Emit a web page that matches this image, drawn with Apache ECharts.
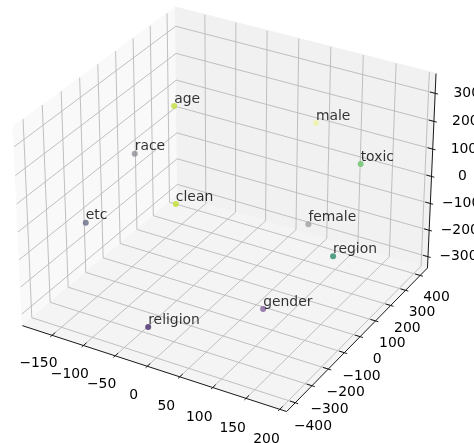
<!DOCTYPE html>
<html>
<head>
<meta charset="utf-8">
<script src="https://cdn.jsdelivr.net/npm/echarts/dist/echarts.min.js"></script>
<style>
html,body{margin:0;padding:0;background:#ffffff;}
#chart{width:474px;height:443px;}
</style>
</head>
<body>
<div id="chart"></div>
<script>
// ---------------- data ----------------
const labels = ['age', 'male', 'race', 'toxic', 'clean', 'etc', 'female', 'region', 'gender', 'religion'];
const xValues = [-89, 38, -169, 134, -38, -170, 64, 147, 98, -13];
const yValues = [40, 414, 95, 305, -142, -185, 268, 83, -148, -396];
const zValues = [269, 104, 18, 71, 44, -91, -179, -139, -238, -242];
const pointColors = ['#c3dc3c', '#eef2a6', '#8e8f96', '#6cc46a', '#c6df2e', '#676d86', '#a0a0a3', '#2a8a6c', '#83619e', '#46296c'];

const xTicks = [-150, -100, -50, 0, 50, 100, 150, 200];
const yTicks = [-400, -300, -200, -100, 0, 100, 200, 300, 400];
const zTicks = [-300, -200, -100, 0, 100, 200, 300];
const xLimits = [-198, 210];
const yLimits = [-451, 451];
const zLimits = [-343, 370];

// ---------------- view / layout ----------------
const VIEW = { elev: 30, azim: -60, dist: 10, boxAspect: [4, 4, 3] };
const LAYOUT = { width: 474, height: 443, centerX: 228.5, centerY: 200, pxPerUnit: 2650 };
const FONT = '"DejaVu Sans", sans-serif';
const FONT_SIZE = 13.9;
// tick-label offsets away from the box, as fractions of each box side
const X_LABEL_OFF = [0, 0.085, 0.085];
const Y_LABEL_OFF = [0.065, 0, 0.092];
const Z_LABEL_OFF = [0.09, 0.053, 0];

const aspectNorm = Math.hypot(...VIEW.boxAspect);
const box = VIEW.boxAspect.map(a => a * 1.8294640721620434 / aspectNorm);
const elR = VIEW.elev * Math.PI / 180, azR = VIEW.azim * Math.PI / 180;
const wv = [Math.cos(elR) * Math.cos(azR), Math.cos(elR) * Math.sin(azR), Math.sin(elR)];
let uv = [-wv[1], wv[0], 0];
const un = Math.hypot(uv[0], uv[1]);
uv = uv.map(c => c / un);
const vv = [wv[1] * uv[2] - wv[2] * uv[1], wv[2] * uv[0] - wv[0] * uv[2], wv[0] * uv[1] - wv[1] * uv[0]];
const dot = (a, b) => a[0] * b[0] + a[1] * b[1] + a[2] * b[2];

function toQ(x, y, z) {
  return [
    (x - xLimits[0]) / (xLimits[1] - xLimits[0]) * box[0] - box[0] / 2,
    (y - yLimits[0]) / (yLimits[1] - yLimits[0]) * box[1] - box[1] / 2,
    (z - zLimits[0]) / (zLimits[1] - zLimits[0]) * box[2] - box[2] / 2
  ];
}
function projectQ(q) {
  const d = VIEW.dist - dot(wv, q);
  return [dot(uv, q) / d, dot(vv, q) / d];
}
function project(x, y, z) { return projectQ(toQ(x, y, z)); }
const fmt = t => (t < 0 ? '\u2212' + Math.abs(t) : String(t));

const chart = echarts.init(document.getElementById('chart'), null, { renderer: 'canvas' });

const hx = box[0] / 2, hy = box[1] / 2, hz = box[2] / 2;

function renderBox(params, api) {
  const P = q => api.coord(projectQ(q));
  const ch = [];
  const poly = (qs, fill) => ch.push({ type: 'polygon', shape: { points: qs.map(P) }, style: { fill: fill, stroke: fill, lineWidth: 1 } });
  const pline = (qs, color, lw) => ch.push({ type: 'polyline', shape: { points: qs.map(P) }, style: { stroke: color, lineWidth: lw, fill: null } });
  const text = (q, s) => { const p = P(q); ch.push({ type: 'text', style: { x: p[0], y: p[1], text: s, fill: '#000', fontSize: FONT_SIZE, fontFamily: FONT, align: 'center', verticalAlign: 'middle' } }); };

  // panes
  poly([[-hx, -hy, -hz], [-hx, hy, -hz], [-hx, hy, hz], [-hx, -hy, hz]], '#f9f9f9');
  poly([[-hx, hy, -hz], [hx, hy, -hz], [hx, hy, hz], [-hx, hy, hz]], '#f1f1f1');
  poly([[-hx, -hy, -hz], [hx, -hy, -hz], [hx, hy, -hz], [-hx, hy, -hz]], '#f4f4f4');

  const gc = '#b9b9b9', gw = 0.9;
  xTicks.forEach(t => { const qx = toQ(t, 0, 0)[0]; pline([[qx, -hy, -hz], [qx, hy, -hz], [qx, hy, hz]], gc, gw); });
  yTicks.forEach(t => { const qy = toQ(0, t, 0)[1]; pline([[-hx, qy, hz], [-hx, qy, -hz], [hx, qy, -hz]], gc, gw); });
  zTicks.forEach(t => { const qz = toQ(0, 0, t)[2]; pline([[-hx, -hy, qz], [-hx, hy, qz], [hx, hy, qz]], gc, gw); });

  // axis lines
  const ac = '#1a1a1a';
  pline([[-hx, -hy, -hz], [hx, -hy, -hz]], ac, 1);
  pline([[hx, -hy, -hz], [hx, hy, -hz]], ac, 1);
  pline([[hx, hy, -hz], [hx, hy, hz]], ac, 1);

  const tOut = 0.012, tIn = 0.022;
  xTicks.forEach(t => {
    const qx = toQ(t, 0, 0)[0];
    pline([[qx, -hy - tOut, -hz], [qx, -hy + tIn, -hz]], ac, 1);
    text([qx, -hy - X_LABEL_OFF[1] * box[1], -hz - X_LABEL_OFF[2] * box[2]], fmt(t));
  });
  yTicks.forEach(t => {
    const qy = toQ(0, t, 0)[1];
    pline([[hx + tOut, qy, -hz], [hx - tIn, qy, -hz]], ac, 1);
    text([hx + Y_LABEL_OFF[0] * box[0], qy, -hz - Y_LABEL_OFF[2] * box[2]], fmt(t));
  });
  zTicks.forEach(t => {
    const qz = toQ(0, 0, t)[2];
    pline([[hx + tOut, hy, qz], [hx - tIn, hy, qz]], ac, 1);
    text([hx + Z_LABEL_OFF[0] * box[0], hy + Z_LABEL_OFF[1] * box[1], qz], fmt(t));
  });
  return { type: 'group', children: ch };
}

const scatterData = labels.map((name, i) => ({
  name: name,
  value: project(xValues[i], yValues[i], zValues[i]),
  itemStyle: { color: pointColors[i] }
}));

chart.setOption({
  animation: false,
  backgroundColor: '#ffffff',
  grid: { left: 0, top: 0, right: 0, bottom: 0, containLabel: false },
  xAxis: { type: 'value', min: -LAYOUT.centerX / LAYOUT.pxPerUnit, max: (LAYOUT.width - LAYOUT.centerX) / LAYOUT.pxPerUnit, show: false },
  yAxis: { type: 'value', min: -(LAYOUT.height - LAYOUT.centerY) / LAYOUT.pxPerUnit, max: LAYOUT.centerY / LAYOUT.pxPerUnit, show: false },
  series: [
    { type: 'custom', coordinateSystem: 'cartesian2d', data: [[0, 0]], renderItem: renderBox, clip: false, silent: true, z: 1 },
    {
      type: 'scatter', z: 2, symbol: 'circle', symbolSize: 6, data: scatterData,
      label: { show: true, formatter: '{b}', position: [3, 3], align: 'left', verticalAlign: 'bottom', offset: [1, 6.5],
               color: '#000', fontSize: FONT_SIZE, fontFamily: FONT },
      labelLayout: { hideOverlap: false }
    }
  ]
});
</script>
</body>
</html>
